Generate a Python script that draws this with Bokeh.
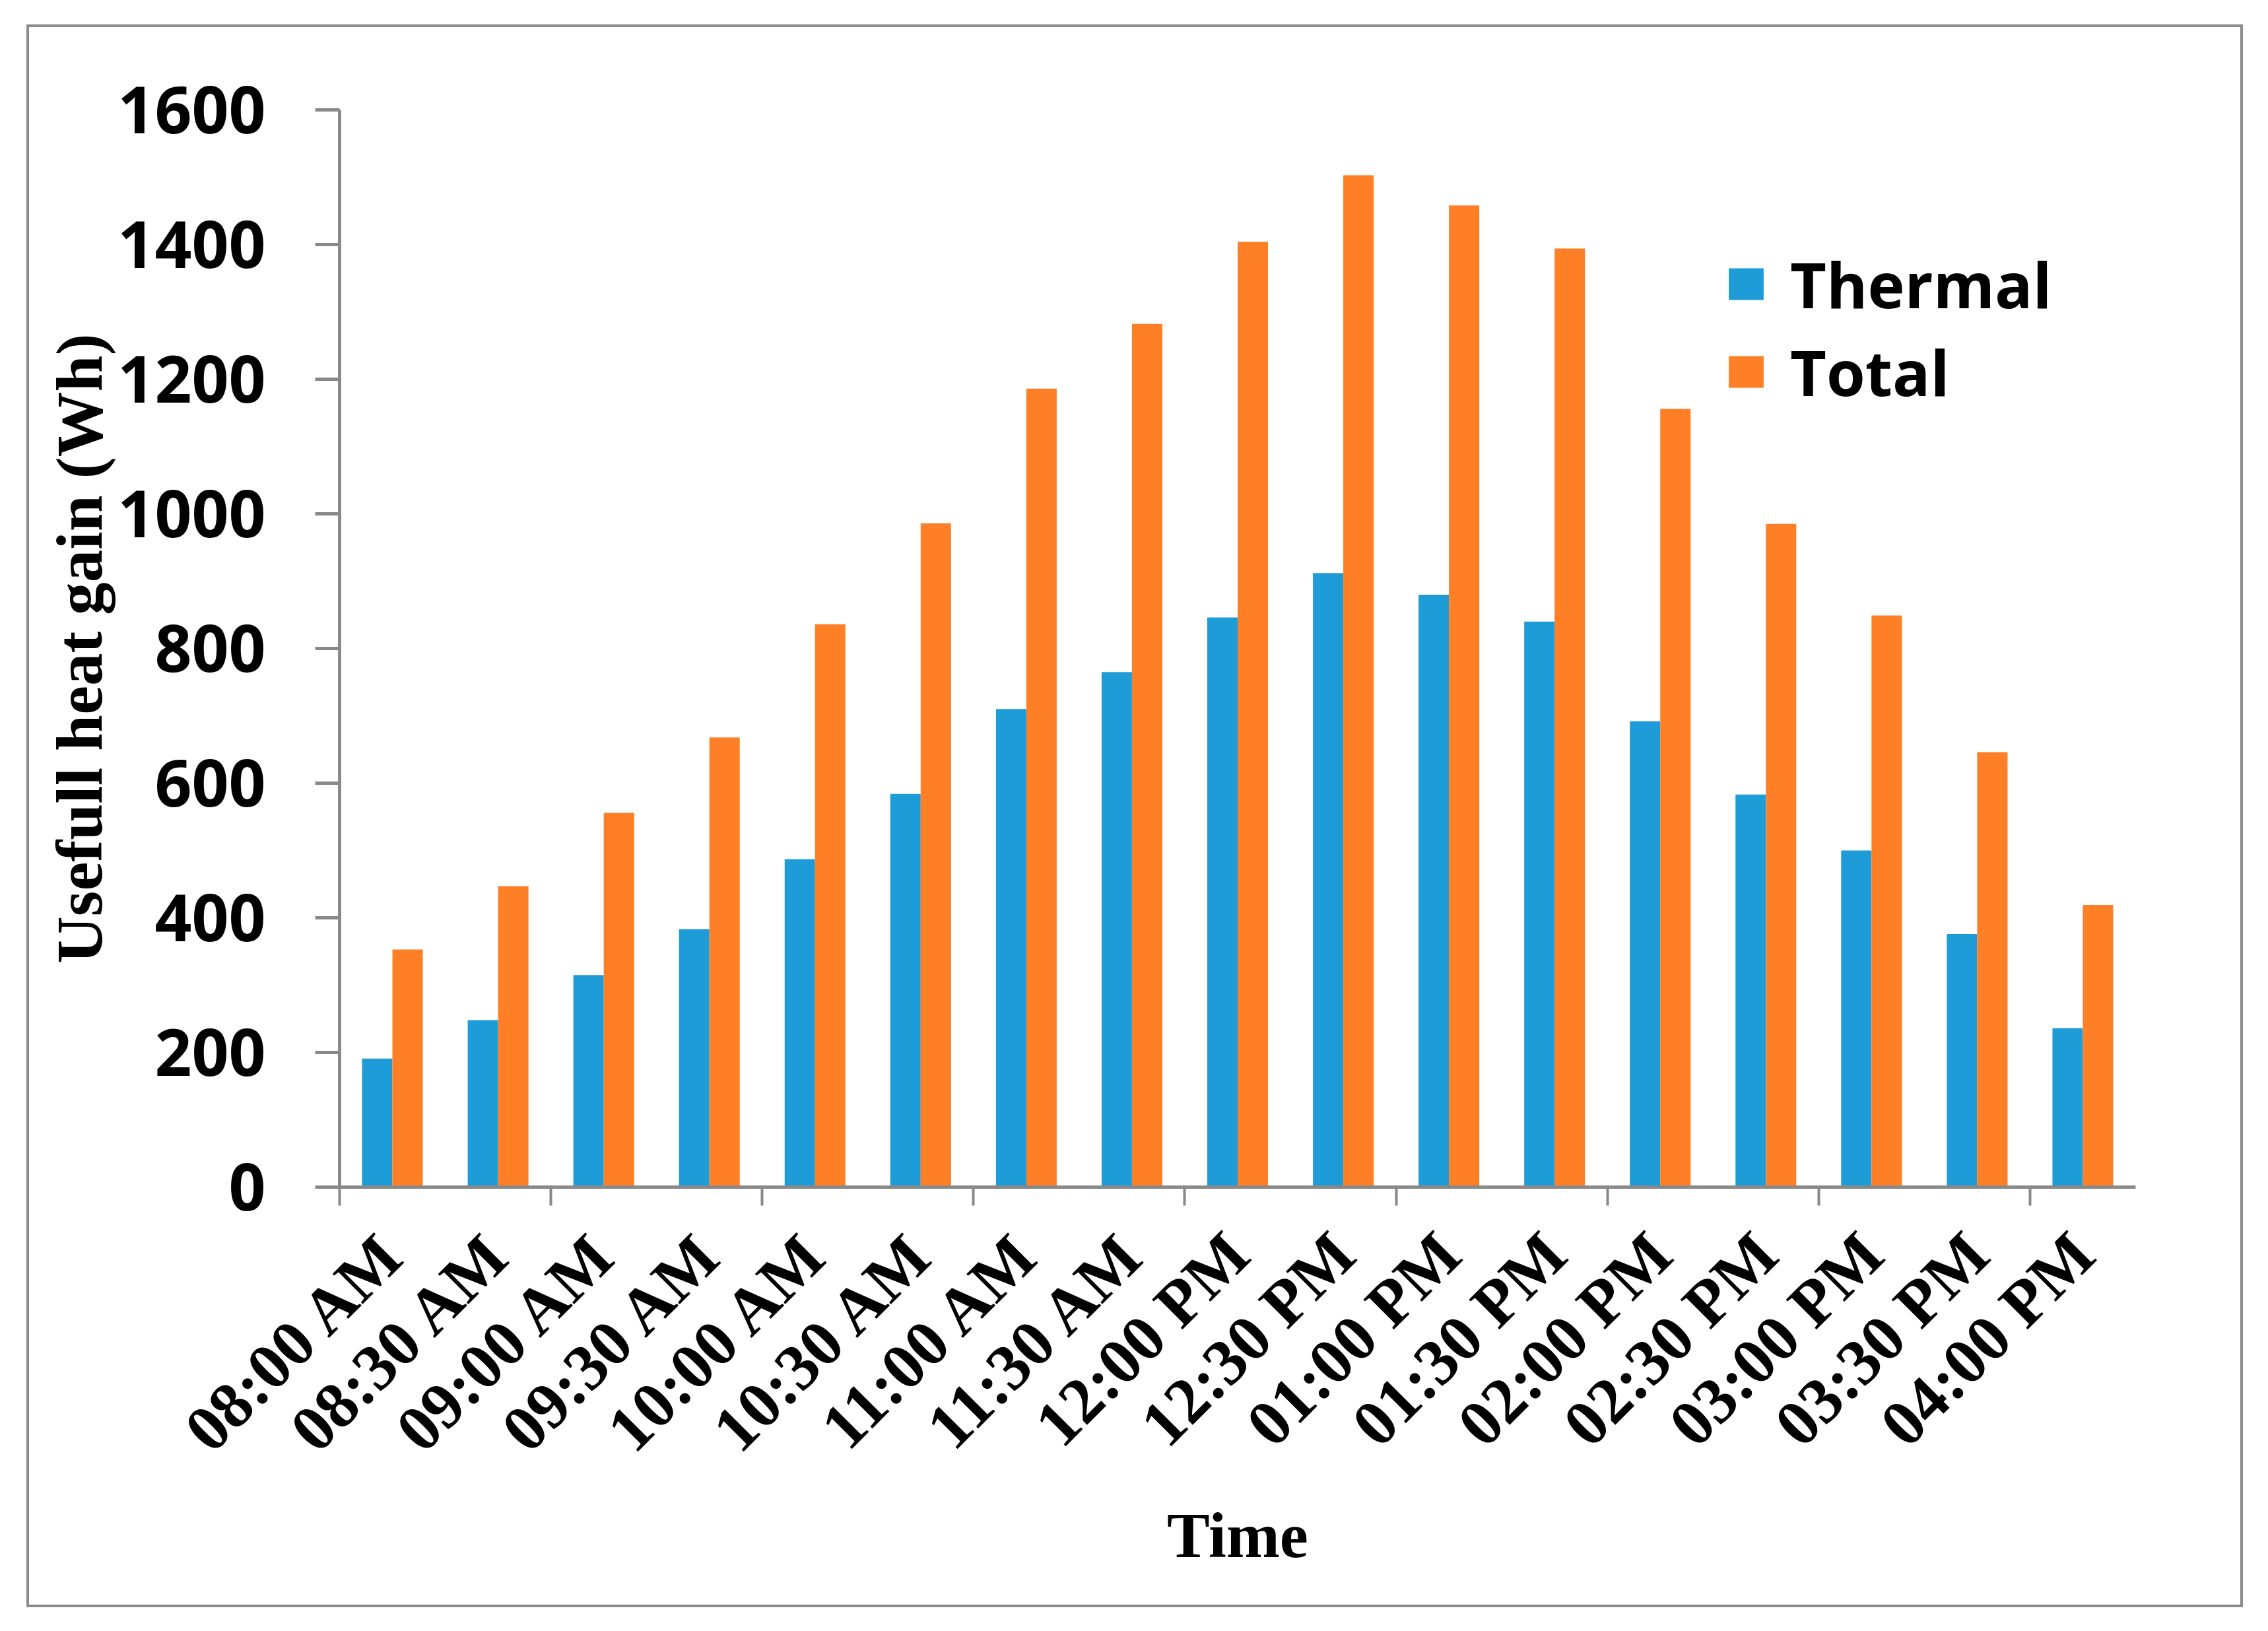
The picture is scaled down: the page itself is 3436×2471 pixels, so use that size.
from bokeh.plotting import figure
from bokeh.models import Range1d, FixedTicker, ColumnDataSource, Legend, LegendItem
from bokeh.embed import file_html
from bokeh.resources import INLINE

times = ["08:00 AM", "08:30 AM", "09:00 AM", "09:30 AM", "10:00 AM", "10:30 AM",
         "11:00 AM", "11:30 AM", "12:00 PM", "12:30 PM", "01:00 PM", "01:30 PM",
         "02:00 PM", "02:30 PM", "03:00 PM", "03:30 PM", "04:00 PM"]
thermal = [191, 248, 315, 383, 487, 584, 710, 765, 846, 912, 880, 840, 692, 583, 500, 376, 236]
total = [353, 447, 556, 668, 836, 986, 1186, 1282, 1404, 1503, 1458, 1394, 1156, 985, 849, 646, 419]
y_ticks = [0, 200, 400, 600, 800, 1000, 1200, 1400, 1600]

BLUE = "#1e9cd8"
ORANGE = "#fe7f26"
GRAY = "#898989"
BW = 0.2875

idx = list(range(len(times)))
src = ColumnDataSource(dict(
    xt=[i - BW / 2 for i in idx],
    xo=[i + BW / 2 for i in idx],
    thermal=thermal,
    total=total,
))

p = figure(width=3358, height=2398, output_backend="svg", toolbar_location=None,
           x_range=Range1d(-0.5, len(times) - 0.5), y_range=Range1d(0, 1600),
           min_border_left=470, min_border_right=167, min_border_top=125, min_border_bottom=641)
p.styles = {"margin-left": "40px", "margin-top": "37px", "border": "4px solid #8c8c8c"}
p.outline_line_color = None
p.xgrid.grid_line_color = None
p.ygrid.grid_line_color = None

r1 = p.vbar(x="xt", top="thermal", width=BW, source=src, fill_color=BLUE, line_color=None)
r2 = p.vbar(x="xo", top="total", width=BW, source=src, fill_color=ORANGE, line_color=None)

# y axis
ya = p.yaxis[0]
ya.ticker = FixedTicker(ticks=y_ticks, minor_ticks=[])
ya.axis_line_color = GRAY
ya.axis_line_width = 5
ya.major_tick_line_color = GRAY
ya.major_tick_line_width = 5
ya.major_tick_out = 37
ya.major_tick_in = 0
ya.minor_tick_line_color = None
ya.major_label_text_font = "Open Sans"
ya.major_label_text_font_style = "bold"
ya.major_label_text_font_size = "98px"
ya.major_label_text_color = "black"
ya.major_label_standoff = 75
ya.axis_label = "Usefull heat gain (Wh)"
ya.axis_label_text_font = "Liberation Serif"
ya.axis_label_text_font_style = "bold"
ya.axis_label_text_font_size = "99px"
ya.axis_label_text_color = "black"
ya.axis_label_standoff = 0

# x axis
xa = p.xaxis[0]
xa.ticker = FixedTicker(ticks=idx, minor_ticks=[i - 0.5 for i in idx[::2]])
xa.major_label_overrides = {i: t for i, t in zip(idx, times)}
xa.axis_line_color = GRAY
xa.axis_line_width = 5
xa.major_tick_line_color = None
xa.minor_tick_line_color = GRAY
xa.minor_tick_line_width = 4
xa.minor_tick_out = 28
xa.minor_tick_in = 0
xa.major_label_orientation = 0.785398
xa.major_label_text_font = "Liberation Serif"
xa.major_label_text_font_style = "bold"
xa.major_label_text_font_size = "99px"
xa.major_label_text_color = "black"
xa.major_label_standoff = 57
xa.axis_label = "Time"
xa.axis_label_text_font = "Liberation Serif"
xa.axis_label_text_font_style = "bold"
xa.axis_label_text_font_size = "97px"
xa.axis_label_text_color = "black"
xa.axis_label_standoff = 12

legend = Legend(items=[LegendItem(label="Thermal", renderers=[r1]),
                       LegendItem(label="Total", renderers=[r2])],
                location=(2098, 1170), orientation="vertical",
                glyph_width=66, glyph_height=60, label_height=128, spacing=3,
                padding=0, margin=0, label_standoff=34,
                label_text_font="Open Sans", label_text_font_style="bold",
                label_text_font_size="95px", label_text_color="black",
                border_line_color=None, background_fill_alpha=0)
p.add_layout(legend, "center")

open("out.html", "w").write(file_html(p, INLINE))
